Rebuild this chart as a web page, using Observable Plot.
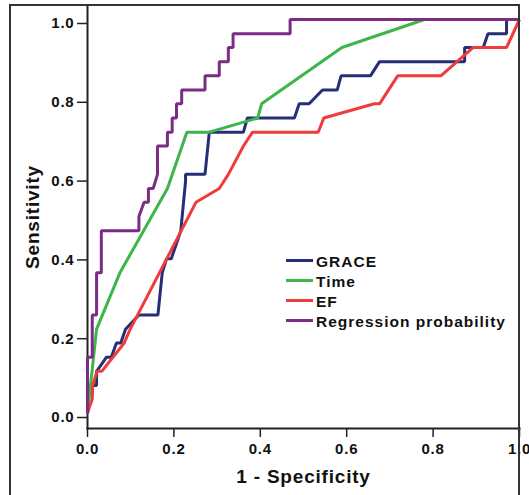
<!DOCTYPE html>
<html>
<head>
<meta charset="utf-8">
<script src="https://cdn.jsdelivr.net/npm/d3@7"></script>
<script src="https://cdn.jsdelivr.net/npm/@observablehq/plot@0.6"></script>
<style>
  html, body { margin: 0; padding: 0; background: #fff; }
  #wrap { position: relative; width: 529px; height: 495px; overflow: hidden; }
  #outer { position: absolute; left: 9px; top: 4px; width: 511px; height: 520px; box-sizing: border-box;
           border: 2px solid #333; border-bottom: none; pointer-events: none; }
  #legend { position: absolute; left: 286px; top: 252px; font-family: "Liberation Sans", Arial, sans-serif;
            font-weight: bold; font-size: 15.5px; letter-spacing: 1px; color: #111; }
  .row { display: flex; align-items: center; height: 20px; line-height: 20px; }
  .sw { width: 27px; height: 3.5px; margin-right: 3px; position: relative; top: -1.5px; }
</style>
</head>
<body>
<div id="wrap"></div>
<script>
const categories = ["GRACE", "Time", "EF", "Regression probability"];
const colors = ["#272E78", "#3CB54A", "#EF3B3B", "#7B2C84"];
const xTicks = [0, 0.2, 0.4, 0.6, 0.8, 1.0];
const yTicks = [0, 0.2, 0.4, 0.6, 0.8, 1.0];
const xTitle = "1 - Specificity";
const yTitle = "Sensitivity";

const graceFpr = [0, 0, 0.021, 0.021, 0.044, 0.055, 0.067, 0.077, 0.088, 0.119, 0.163, 0.173, 0.183, 0.194, 0.216, 0.227, 0.227, 0.272, 0.282, 0.361, 0.370, 0.479, 0.490, 0.513, 0.544, 0.578, 0.587, 0.655, 0.676, 0.873, 0.873, 0.916, 0.927, 0.970, 0.970, 1];
const graceTpr = [0, 0.071, 0.071, 0.107, 0.143, 0.143, 0.179, 0.179, 0.214, 0.250, 0.250, 0.357, 0.393, 0.393, 0.464, 0.590, 0.607, 0.607, 0.714, 0.714, 0.750, 0.750, 0.786, 0.786, 0.821, 0.821, 0.857, 0.857, 0.893, 0.893, 0.929, 0.929, 0.964, 0.964, 1, 1];

const timeFpr = [0, 0.021, 0.075, 0.185, 0.230, 0.282, 0.394, 0.403, 0.589, 0.780, 1];
const timeTpr = [0, 0.214, 0.357, 0.571, 0.714, 0.714, 0.750, 0.786, 0.929, 1, 1];

const efFpr = [0, 0.005, 0.011, 0.012, 0.022, 0.033, 0.085, 0.099, 0.251, 0.305, 0.326, 0.361, 0.382, 0.534, 0.547, 0.664, 0.676, 0.718, 0.818, 0.893, 0.970, 1];
const efTpr = [0, 0.018, 0.036, 0.071, 0.107, 0.107, 0.179, 0.214, 0.536, 0.571, 0.607, 0.679, 0.714, 0.714, 0.750, 0.786, 0.786, 0.857, 0.857, 0.929, 0.929, 1];

const regFpr = [0, 0, 0.011, 0.011, 0.021, 0.021, 0.032, 0.032, 0.119, 0.119, 0.131, 0.141, 0.141, 0.152, 0.162, 0.162, 0.185, 0.185, 0.196, 0.196, 0.206, 0.206, 0.218, 0.218, 0.272, 0.272, 0.305, 0.305, 0.326, 0.326, 0.337, 0.337, 0.469, 0.469, 1];
const regTpr = [0, 0.143, 0.143, 0.250, 0.250, 0.357, 0.357, 0.464, 0.464, 0.500, 0.536, 0.536, 0.571, 0.571, 0.607, 0.679, 0.679, 0.714, 0.714, 0.750, 0.750, 0.786, 0.786, 0.821, 0.821, 0.857, 0.857, 0.893, 0.893, 0.929, 0.929, 0.964, 0.964, 1, 1];

const seriesFpr = [graceFpr, timeFpr, efFpr, regFpr];
const seriesTpr = [graceTpr, timeTpr, efTpr, regTpr];

const rows = categories.flatMap((name, i) =>
  seriesFpr[i].map((f, j) => ({series: name, fpr: f, tpr: seriesTpr[i][j]})));

const fmt = d3.format(".1f");
const font = "'Liberation Sans', Arial, Helvetica, sans-serif";

const chart = Plot.plot({
  width: 529,
  height: 495,
  marginLeft: 87,
  marginRight: 10,
  marginTop: 5,
  marginBottom: 67,
  insetTop: 14,
  insetBottom: 15,
  x: {domain: [0, 1]},
  y: {domain: [0, 1]},
  color: {domain: categories, range: colors},
  style: {fontFamily: font, fontSize: "15px", fontWeight: "bold", color: "#222", background: "transparent", letterSpacing: "0.8px", overflow: "visible"},
  marks: [
    Plot.axisX({ticks: xTicks, tickFormat: fmt, tickSize: 9, tickPadding: 6, label: null, strokeWidth: 1.5, fill: "#111"}),
    Plot.axisY({ticks: yTicks, tickFormat: fmt, tickSize: 10, tickPadding: 3, label: null, strokeWidth: 1.5, fill: "#111", dy: 4}),
    Plot.frame({anchor: "left", stroke: "#222", strokeWidth: 2}),
    Plot.frame({anchor: "bottom", stroke: "#222", strokeWidth: 2}),
    Plot.line(rows, {x: "fpr", y: "tpr", z: "series", stroke: "series", strokeWidth: 3, strokeLinejoin: "miter", strokeLinecap: "butt"}),
    Plot.text([xTitle], {frameAnchor: "bottom", textAnchor: "middle", dy: 48, lineAnchor: "middle", fontSize: 19, fontWeight: "bold", fill: "#111"}),
    Plot.text([yTitle], {frameAnchor: "left", textAnchor: "middle", dx: -55, rotate: -90, lineAnchor: "middle", fontSize: 19, fontWeight: "bold", fill: "#111"})
  ]
});

const wrap = document.getElementById("wrap");
wrap.appendChild(chart);
const outer = document.createElement("div");
outer.id = "outer";
wrap.appendChild(outer);

const legend = document.createElement("div");
legend.id = "legend";
categories.forEach((name, i) => {
  const row = document.createElement("div");
  row.className = "row";
  const sw = document.createElement("span");
  sw.className = "sw";
  sw.style.background = colors[i];
  const t = document.createElement("span");
  t.textContent = name;
  row.appendChild(sw);
  row.appendChild(t);
  legend.appendChild(row);
});
wrap.appendChild(legend);
</script>
</body>
</html>
